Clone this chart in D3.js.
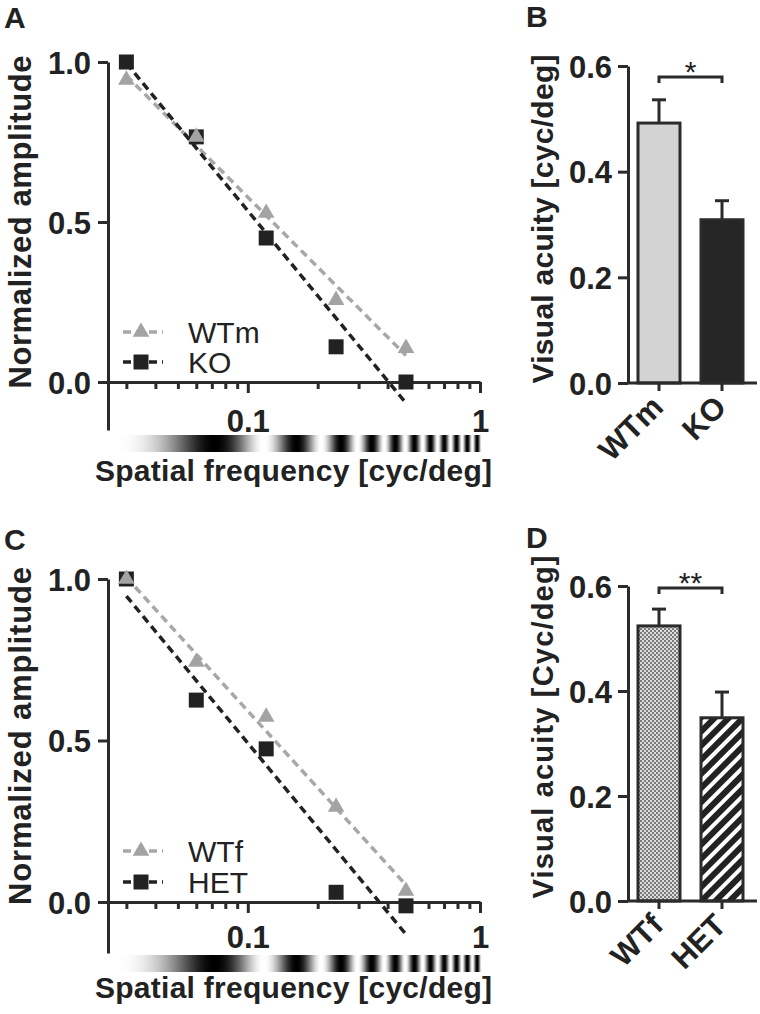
<!DOCTYPE html>
<html><head><meta charset="utf-8">
<script src="https://cdn.jsdelivr.net/npm/d3@7"></script>
<style>
body{margin:0;background:#fff}
svg{display:block}
text{font-family:"Liberation Sans",Arial,Helvetica,sans-serif;fill:#222}
</style>
</head><body>
<svg id="chart" width="760" height="1014"></svg>
<script>
// ---------------- data ----------------
const freqs = [0.03, 0.06, 0.12, 0.24, 0.48];
const ampWTm = [0.944, 0.766, 0.528, 0.256, 0.106];
const ampKO  = [1.0, 0.766, 0.45, 0.11, 0.0];
const ampWTf = [1.0, 0.743, 0.573, 0.294, 0.034];
const ampHET = [1.0, 0.625, 0.474, 0.03, -0.012];
const xMinorTicks = [0.03,0.04,0.05,0.06,0.07,0.08,0.09,0.2,0.3,0.4,0.5,0.6,0.7,0.8,0.9];
const xMajorTicks = [0.1, 1];
const xTickLabels = ["0.1", "1"];
const yTicksLine = [0, 0.5, 1];
const yTickLabelsLine = ["0.0", "0.5", "1.0"];

const groupsB = ["WTm", "KO"];
const meansB = [0.492, 0.309];
const semB = [0.044, 0.036];
const groupsD = ["WTf", "HET"];
const meansD = [0.524, 0.349];
const semD = [0.032, 0.049];
const yTicksBar = [0, 0.2, 0.4, 0.6];
const yTickLabelsBar = ["0.0", "0.2", "0.4", "0.6"];

// ---------------- setup ----------------
const svg = d3.select("#chart");
const defs = svg.append("defs");
const AX = "#2b2b2b", BLK = "#222", GRY = "#a3a3a3";

// patterns
const chk = defs.append("pattern").attr("id","checker").attr("patternUnits","userSpaceOnUse")
  .attr("width",4).attr("height",4);
chk.append("rect").attr("width",4).attr("height",4).attr("fill","#dcdcdc");
chk.append("rect").attr("width",2).attr("height",2).attr("fill","#7a7a7a");
chk.append("rect").attr("x",2).attr("y",2).attr("width",2).attr("height",2).attr("fill","#7a7a7a");
const str = defs.append("pattern").attr("id","stripes").attr("patternUnits","userSpaceOnUse")
  .attr("width",10).attr("height",10).attr("patternTransform","rotate(45)");
str.append("rect").attr("width",10).attr("height",10).attr("fill","#fff");
str.append("rect").attr("width",6).attr("height",10).attr("fill",BLK);

function fit(xs, ys){
  const lx = xs.map(Math.log10);
  const mx = d3.mean(lx), my = d3.mean(ys);
  const b = d3.sum(lx.map((v,i)=>(v-mx)*(ys[i]-my))) / d3.sum(lx.map(v=>(v-mx)*(v-mx)));
  return f => my + b*(Math.log10(f)-mx);
}

function linePanel(o){
  const g = svg.append("g");
  const x = d3.scaleLog().domain([0.025, 1]).range([108, 480]);
  const y = d3.scaleLinear().domain([o.yMin, 1]).range([o.yBottom, o.yTop]);

  // y axis
  const ya = g.append("g").attr("transform","translate(108,0)")
    .call(d3.axisLeft(y).tickValues(yTicksLine).tickSize(10).tickSizeOuter(0)
      .tickFormat((d,i)=>yTickLabelsLine[i]));
  ya.select(".domain").attr("stroke",AX).attr("stroke-width",3);
  ya.selectAll(".tick line").attr("stroke",AX).attr("stroke-width",3);
  ya.selectAll(".tick text").attr("x",-17).attr("dy","0.36em")
    .style("font-size","31px").style("font-weight","bold").attr("fill","#222");

  // x axis
  const x0 = y(0);
  const xa = g.append("g").attr("transform",`translate(0,${x0})`)
    .call(d3.axisBottom(x).tickValues(xMinorTicks.concat(xMajorTicks)).tickSize(7).tickSizeOuter(0)
      .tickFormat(d=>{const i = xMajorTicks.indexOf(d); return i>=0 ? xTickLabels[i] : "";}));
  xa.select(".domain").attr("stroke",AX).attr("stroke-width",3);
  xa.selectAll(".tick line").attr("stroke",AX).attr("stroke-width",3)
    .attr("y2", d => xMajorTicks.includes(d) ? 11 : 7);
  xa.selectAll(".tick text").attr("y", o.xLabOff).attr("dy",0)
    .style("font-size","31px").style("font-weight","bold").attr("fill","#222");

  // grating bar
  const px = d3.range(115, 482);
  g.append("g").selectAll("rect").data(px).join("rect")
    .attr("x", d=>d).attr("y", o.gradY).attr("width",1.2).attr("height",17)
    .attr("fill", d=>{
      const sf = x.invert(d+0.5);
      const v = 0.5 - 0.5*Math.cos(2*Math.PI*(sf-0.072)/0.09);
      return d3.rgb(v*255, v*255, v*255);
    });

  // fit lines
  o.series.forEach(s=>{
    const f = fit(freqs, s.vals);
    const ends = [freqs[0], freqs[freqs.length-1]];
    g.append("path").datum(ends)
      .attr("d", d3.line().x(d=>x(d)).y(d=>y(f(d))))
      .attr("fill","none").attr("stroke", s.lineColor).attr("stroke-width",3.5)
      .attr("stroke-dasharray","8,5");
  });
  // markers (squares first, triangles on top)
  [...o.series].reverse().forEach(s=>{
    g.append("g").selectAll("path").data(s.vals).join("path")
      .attr("transform",(d,i)=>`translate(${x(freqs[i])},${y(d)})`)
      .attr("d", d3.symbol().type(s.shape).size(s.shape===d3.symbolSquare?225:120))
      .attr("fill", s.color);
  });

  // legend
  o.series.forEach((s,i)=>{
    const ly = o.legY[i];
    g.append("line").attr("x1",123).attr("x2",163).attr("y1",ly).attr("y2",ly)
      .attr("stroke",s.lineColor).attr("stroke-width",3.5).attr("stroke-dasharray","8,5");
    g.append("path").attr("transform",`translate(141,${ly})`)
      .attr("d", d3.symbol().type(s.shape).size(s.shape===d3.symbolSquare?225:120))
      .attr("fill", s.color);
    g.append("text").attr("x",188).attr("y",ly+11).text(s.name)
      .style("font-size","30px");
  });

  // axis titles
  g.append("text").attr("transform",`translate(31,${o.yLabC}) rotate(-90)`)
    .attr("text-anchor","middle").attr("textLength",o.yLabLen)
    .style("font-size","31px").style("font-weight","bold").text("Normalized amplitude");
  g.append("text").attr("x",95).attr("y",o.xTitleY).attr("textLength",397)
    .style("font-size","30px").style("font-weight","bold").text("Spatial frequency [cyc/deg]");
  g.append("text").attr("x",4).attr("y",o.letterY).text(o.letter)
    .style("font-size","30px").style("font-weight","bold");
}

function barPanel(o){
  const g = svg.append("g");
  const y = d3.scaleLinear().domain([0,0.6]).range([o.y0, o.y6]);
  const cx = [659, 722];
  const ya = g.append("g").attr("transform","translate(628,0)")
    .call(d3.axisLeft(y).tickValues(yTicksBar).tickSize(10).tickSizeOuter(0)
      .tickFormat((d,i)=>yTickLabelsBar[i]));
  ya.select(".domain").attr("stroke",AX).attr("stroke-width",3);
  ya.selectAll(".tick line").attr("stroke",AX).attr("stroke-width",3);
  ya.selectAll(".tick text").attr("x",-16).attr("dy","0.36em")
    .style("font-size","31px").style("font-weight","bold").attr("fill","#222");

  // error bars
  o.groups.forEach((gname,i)=>{
    const top = y(o.means[i]+o.sem[i]);
    g.append("line").attr("x1",cx[i]).attr("x2",cx[i]).attr("y1",y(o.means[i])).attr("y2",top)
      .attr("stroke",AX).attr("stroke-width",3);
    g.append("line").attr("x1",cx[i]-7).attr("x2",cx[i]+7).attr("y1",top).attr("y2",top)
      .attr("stroke",AX).attr("stroke-width",3);
  });
  // bars
  g.selectAll("rect.bar").data(o.means).join("rect").attr("class","bar")
    .attr("x",(d,i)=>cx[i]-21).attr("width",42)
    .attr("y",d=>y(d)).attr("height",d=>y(0)-y(d))
    .attr("fill",(d,i)=>o.fills[i]).attr("stroke",AX).attr("stroke-width",3);

  // x axis
  g.append("line").attr("x1",627).attr("x2",757).attr("y1",y(0)).attr("y2",y(0))
    .attr("stroke",AX).attr("stroke-width",3);
  cx.forEach(c=>g.append("line").attr("x1",c).attr("x2",c).attr("y1",y(0)).attr("y2",y(0)+8)
    .attr("stroke",AX).attr("stroke-width",3));
  o.groups.forEach((gname,i)=>{
    g.append("text").attr("transform",`translate(${cx[i]+6},${y(0)+26}) rotate(-45)`)
      .attr("text-anchor","end").style("font-size","31px").style("font-weight","bold").text(gname);
  });

  // significance bracket
  const by = o.brY;
  g.append("path").attr("d",`M${cx[0]},${by+6}V${by}H${cx[1]}V${by+6}`)
    .attr("fill","none").attr("stroke",AX).attr("stroke-width",3);
  g.append("text").attr("x",(cx[0]+cx[1])/2).attr("y",by+o.starOff).attr("text-anchor","middle")
    .style("font-size","30px").text(o.star);

  g.append("text").attr("transform",`translate(553,${o.yLabC}) rotate(-90)`)
    .attr("text-anchor","middle").attr("textLength",o.yLabLen)
    .style("font-size",o.yLabFs+"px").style("font-weight","bold").text(o.yLab);
  g.append("text").attr("x",526).attr("y",o.letterY).text(o.letter)
    .style("font-size","30px").style("font-weight","bold");
}

linePanel({
  yMin:-0.15, yTop:62, yBottom:430, xLabOff:50, gradY:435, xTitleY:481,
  yLabC:222, yLabLen:333, letter:"A", letterY:28, legY:[332,362],
  series:[
    {name:"WTm", vals:ampWTm, color:GRY, lineColor:"#a8a8a8", shape:d3.symbolTriangle},
    {name:"KO", vals:ampKO, color:BLK, lineColor:BLK, shape:d3.symbolSquare}
  ]
});
linePanel({
  yMin:-0.158, yTop:579, yBottom:953, xLabOff:46, gradY:955, xTitleY:998,
  yLabC:736, yLabLen:338, letter:"C", letterY:550, legY:[851,882],
  series:[
    {name:"WTf", vals:ampWTf, color:GRY, lineColor:"#a8a8a8", shape:d3.symbolTriangle},
    {name:"HET", vals:ampHET, color:BLK, lineColor:BLK, shape:d3.symbolSquare}
  ]
});
barPanel({
  y0:383, y6:66, groups:groupsB, means:meansB, sem:semB, fills:["#d3d3d3","#262626"],
  brY:77, star:"*", starOff:5, yLab:"Visual acuity [cyc/deg]", yLabC:219, yLabLen:329, yLabFs:30,
  letter:"B", letterY:27
});
barPanel({
  y0:901, y6:586, groups:groupsD, means:meansD, sem:semD, fills:["url(#checker)","url(#stripes)"],
  brY:588, star:"**", starOff:5, yLab:"Visual acuity [Cyc/deg]", yLabC:727, yLabLen:343, yLabFs:29,
  letter:"D", letterY:548
});
</script>
</body></html>
